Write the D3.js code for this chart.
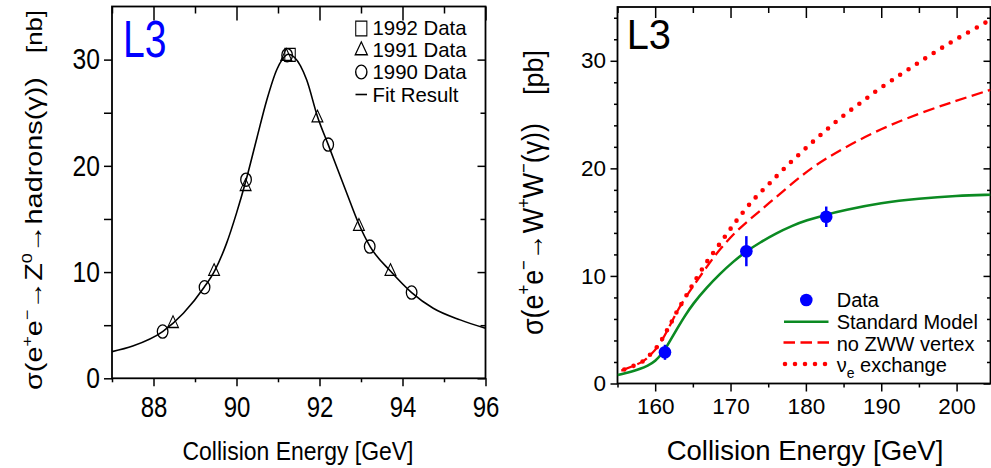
<!DOCTYPE html>
<html><head><meta charset="utf-8">
<script src="https://cdn.jsdelivr.net/npm/d3@7"></script>
<style>body{margin:0;background:#fff}svg{display:block}</style>
</head><body>
<svg id="c" width="991" height="468"></svg>
<script>
// ---------- Left panel data: e+e- -> Z0 -> hadrons ----------
const z1990E = [88.22, 89.23, 90.23, 91.22, 92.21, 93.21, 94.22];
const z1990S = [4.4, 8.57, 18.7, 30.42, 22.0, 12.4, 8.07];
const z1991E = [88.47, 89.46, 90.22, 91.2, 91.95, 92.95, 93.71];
const z1991S = [5.15, 10.05, 18.05, 30.3, 24.5, 14.3, 10.05];
const z1992E = [91.29];
const z1992S = [30.45];
const zFitE = [87, 87.5, 88.22, 88.72, 89.22, 89.47, 89.76, 90.0, 90.22, 90.49, 90.73, 90.97, 91.1, 91.25, 91.4, 91.69, 91.95, 92.21, 92.66, 92.94, 93.22, 93.72, 94.22, 94.74, 95.39, 96];
const zFitS = [2.51, 3.04, 4.4, 6.12, 8.57, 10.1, 12.7, 15.55, 18.5, 22.6, 26.2, 29.05, 30.0, 30.5, 30.2, 28.1, 24.65, 22.0, 17.4, 14.6, 12.4, 10.05, 8.07, 6.6, 5.5, 4.71];
const zXTicks = [88, 90, 92, 94, 96];
const zYTicks = [0, 10, 20, 30];
const zLegend = ["1992 Data", "1991 Data", "1990 Data", "Fit Result"];

// ---------- Right panel data: e+e- -> W+W- ----------
const wDataE = [161.3, 172.1, 182.7];
const wDataS = [2.9, 12.3, 15.5];
const wDataErr = [0.7, 1.4, 0.95];
const smE = [155, 156, 157, 158, 159, 160, 161, 161.5, 162, 163, 164, 165, 166.8, 168.6, 170.3, 172.1, 173.9, 176, 178.3, 180, 182.7, 185, 190, 195, 200, 204.5];
const smS = [0.79, 0.95, 1.13, 1.35, 1.65, 2.05, 2.85, 3.4, 4.0, 5.2, 6.35, 7.4, 8.9, 10.2, 11.3, 12.3, 13.1, 13.95, 14.7, 15.15, 15.7, 16.1, 16.8, 17.2, 17.45, 17.55];
const noZwwE = [155.5, 157, 158.4, 159.3, 160.4, 161.7, 162.8, 164.1, 165.7, 167.2, 168.6, 170.8, 172.8, 175, 178, 181, 185, 190, 195, 200, 204.5];
const noZwwS = [1.2, 1.6, 2.0, 2.6, 3.4, 5.0, 6.6, 8.1, 9.7, 11.2, 12.5, 14.2, 15.4, 16.7, 18.5, 20.2, 21.9, 23.7, 25.1, 26.3, 27.3];
const nueE = [155.9, 157, 158.4, 159.3, 160.4, 160.9, 161.6, 162.2, 162.8, 163.5, 164.8, 165.5, 166.9, 168.5, 170, 171.6, 173.4, 175.2, 177.1, 179.1, 181.1, 183.1, 185.1, 187.3, 189.5, 192.7, 194.9, 197.1, 199.4, 201.7, 204.1];
const nueS = [1.3, 1.6, 2.0, 2.65, 3.5, 4.1, 5.0, 5.75, 6.6, 7.4, 9.0, 9.8, 11.4, 12.9, 14.4, 15.9, 17.4, 18.6, 20.0, 21.3, 22.6, 23.8, 25.0, 26.1, 27.3, 28.8, 29.8, 30.8, 31.8, 32.7, 33.66];
const wXTicks = [160, 170, 180, 190, 200];
const wYTicks = [0, 10, 20, 30];
const wLegend = ["Data", "Standard Model", "no ZWW vertex", "exchange"];

// ---------- drawing ----------
const FONT = '"Liberation Sans", Arial, Helvetica, sans-serif';
const svg = d3.select('#c').style('font-family', FONT);
const GREEN = '#0b8a22', RED = '#ff0000', BLUE = '#0000ff';

function condense(sel, f) {
  sel.each(function () {
    const w = this.getComputedTextLength();
    this.setAttribute('textLength', w * f);
    this.setAttribute('lengthAdjust', 'spacingAndGlyphs');
  });
}
function range(a, b, s) { const r = []; for (let v = a; v <= b + 1e-9; v += s) r.push(+v.toFixed(6)); return r; }

function axisSet(g, gen, vals, size, tr, fmt, pad) {
  const a = g.append('g').attr('transform', tr)
    .call(gen.tickValues(vals).tickSize(size).tickPadding(pad || 3).tickFormat(fmt || (() => '')));
  a.select('.domain').remove();
  a.selectAll('line').attr('stroke', '#000').attr('stroke-width', 1.5);
  return a;
}

// ===== LEFT PANEL =====
const L = {x0: 112, x1: 485.5, y0: 378.3, y1: 6.5};
const zx = d3.scaleLinear().domain([87, 96]).range([L.x0, L.x1]);
const zy = d3.scaleLinear().domain([0, 35]).range([L.y0, L.y1]);
const gl = svg.append('g');

const zMinX = range(87, 95, 1).filter(v => !zXTicks.includes(v));
const zMinY = range(5, 30, 5).filter(v => !zYTicks.includes(v));
const lb = axisSet(gl, d3.axisBottom(zx), zXTicks, 8, `translate(0,${L.y0})`, d3.format('d'), 9);
lb.selectAll('text').attr('font-size', 30).attr('fill', '#000').attr('font-family', FONT).call(condense, 0.8);
axisSet(gl, d3.axisBottom(zx), zMinX, 4, `translate(0,${L.y0})`);
axisSet(gl, d3.axisTop(zx), zXTicks, -14, `translate(0,${L.y1})`);
axisSet(gl, d3.axisTop(zx), zMinX, -7, `translate(0,${L.y1})`);
const ll = axisSet(gl, d3.axisLeft(zy), zYTicks, 8, `translate(${L.x0},0)`, d3.format('d'), 4);
ll.selectAll('text').attr('font-size', 29).attr('fill', '#000').attr('font-family', FONT).call(condense, 0.85);
axisSet(gl, d3.axisLeft(zy), zMinY, 8, `translate(${L.x0},0)`);
axisSet(gl, d3.axisRight(zy), zYTicks, -8, `translate(${L.x1},0)`);
axisSet(gl, d3.axisRight(zy), zMinY, -5, `translate(${L.x1},0)`);
gl.append('rect').attr('x', L.x0).attr('y', L.y1).attr('width', L.x1 - L.x0).attr('height', L.y0 - L.y1)
  .attr('fill', 'none').attr('stroke', '#000').attr('stroke-width', 1.8);

gl.append('defs').append('clipPath').attr('id', 'clipL').append('rect')
  .attr('x', L.x0).attr('y', L.y1).attr('width', L.x1 - L.x0).attr('height', L.y0 - L.y1);
const zLine = d3.line().x((d, i) => zx(zFitE[i])).y(d => zy(d)).curve(d3.curveMonotoneX);
gl.append('path').attr('clip-path', 'url(#clipL)').attr('d', zLine(zFitS))
  .attr('fill', 'none').attr('stroke', '#000').attr('stroke-width', 1.6);

const SX = 0.8;
gl.selectAll('ellipse.d90').data(z1990S).join('ellipse')
  .attr('cx', (d, i) => zx(z1990E[i])).attr('cy', d => zy(d)).attr('rx', 5.3).attr('ry', 6.6)
  .attr('fill', 'none').attr('stroke', '#000').attr('stroke-width', 1.3);
const tri = d3.symbol(d3.symbolTriangle, 80);
gl.selectAll('path.d91').data(z1991S).join('path')
  .attr('transform', (d, i) => `translate(${zx(z1991E[i])},${zy(d)}) scale(${SX},1)`)
  .attr('d', tri()).attr('fill', 'none').attr('stroke', '#000').attr('stroke-width', 1.3);
const sq = d3.symbol(d3.symbolSquare, 170);
gl.selectAll('path.d92').data(z1992S).join('path')
  .attr('transform', (d, i) => `translate(${zx(z1992E[i])},${zy(d)}) scale(${SX},1)`)
  .attr('d', sq()).attr('fill', 'none').attr('stroke', '#000').attr('stroke-width', 1.3);

// legend (left)
const lgX = 361.3, lgTX = 372.5, lgBase = [35, 57, 79.3, 101.7];
gl.append('path').attr('transform', `translate(${lgX},${28.5}) scale(0.75,1)`).attr('d', d3.symbol(d3.symbolSquare, 220)())
  .attr('fill', 'none').attr('stroke', '#000').attr('stroke-width', 1.4);
gl.append('path').attr('transform', `translate(${lgX},${50.5}) scale(0.82,1)`).attr('d', d3.symbol(d3.symbolTriangle, 95)())
  .attr('fill', 'none').attr('stroke', '#000').attr('stroke-width', 1.4);
gl.append('ellipse').attr('cx', lgX).attr('cy', 72).attr('rx', 5.6).attr('ry', 6.9)
  .attr('fill', 'none').attr('stroke', '#000').attr('stroke-width', 1.4);
gl.append('line').attr('x1', 355.5).attr('x2', 367).attr('y1', 94.5).attr('y2', 94.5).attr('stroke', '#000').attr('stroke-width', 1.6);
gl.selectAll('text.lg').data(zLegend).join('text').attr('class', 'lg')
  .attr('x', lgTX).attr('y', (d, i) => lgBase[i]).attr('font-size', 21).text(d => d).call(condense, 0.97);

gl.append('text').attr('x', 123).attr('y', 57.3).attr('font-size', 51).attr('fill', BLUE)
  .attr('textLength', 43.5).attr('lengthAdjust', 'spacingAndGlyphs').text('L3');

gl.append('text').attr('x', 182.5).attr('y', 459.5).attr('font-size', 26)
  .attr('textLength', 231).attr('lengthAdjust', 'spacingAndGlyphs').text('Collision Energy [GeV]');

function yTitle(g, x, yStart, fs, parts, len, sx) {
  const t = g.append('text').attr('transform', `translate(${x},${yStart}) scale(${sx},1) rotate(-90)`)
    .attr('font-size', fs);
  parts.forEach(p => {
    const ts = t.append('tspan').text(p[0]);
    if (p[1] === 'sup') ts.attr('font-size', fs * 0.62).attr('dy', -fs * 0.42);
    else if (p[1] === 'back') ts.attr('dy', fs * 0.42);
  });
  t.attr('textLength', len).attr('lengthAdjust', 'spacingAndGlyphs');
  return t;
}
yTitle(gl, 41.7, 390, 30, [
  ['σ(e'], ['+', 'sup'], ['e', 'back'], ['−', 'sup'], ['→Z', 'back'], ['0', 'sup'], ['→hadrons(γ))', 'back']
], 313, 0.8);
gl.append('text').attr('transform', `translate(41.7,53) scale(0.8,1) rotate(-90)`).attr('font-size', 28)
  .attr('textLength', 43).attr('lengthAdjust', 'spacingAndGlyphs').text('[nb]');

// ===== RIGHT PANEL =====
const R = {x0: 617.5, x1: 990.5, y0: 383.5, y1: 7};
const wx = d3.scaleLinear().domain([155, 204.5]).range([R.x0, R.x1]);
const wy = d3.scaleLinear().domain([0, 35]).range([R.y0, R.y1]);
const gr = svg.append('g');

const wMinX = range(155, 200, 5).filter(v => !wXTicks.includes(v));
const wMinY = range(2, 34, 2).filter(v => !wYTicks.includes(v));
const rb = axisSet(gr, d3.axisBottom(wx), wXTicks, 8, `translate(0,${R.y0})`, d3.format('d'), 7);
rb.selectAll('text').attr('font-size', 22.5).attr('fill', '#000').attr('font-family', FONT);
axisSet(gr, d3.axisBottom(wx), wMinX, 4, `translate(0,${R.y0})`);
axisSet(gr, d3.axisTop(wx), wXTicks, -11, `translate(0,${R.y1})`);
axisSet(gr, d3.axisTop(wx), wMinX, -6, `translate(0,${R.y1})`);
const rl = axisSet(gr, d3.axisLeft(wy), wYTicks, 7, `translate(${R.x0},0)`, d3.format('d'), 4.5);
rl.selectAll('text').attr('font-size', 22.5).attr('fill', '#000').attr('font-family', FONT);
axisSet(gr, d3.axisLeft(wy), wMinY, 3.5, `translate(${R.x0},0)`);
axisSet(gr, d3.axisRight(wy), wYTicks, -7, `translate(${R.x1},0)`);
axisSet(gr, d3.axisRight(wy), wMinY, -3.5, `translate(${R.x1},0)`);
gr.append('rect').attr('x', R.x0).attr('y', R.y1).attr('width', R.x1 - R.x0).attr('height', R.y0 - R.y1)
  .attr('fill', 'none').attr('stroke', '#000').attr('stroke-width', 1.8);

gr.append('defs').append('clipPath').attr('id', 'clipR').append('rect')
  .attr('x', R.x0).attr('y', R.y1).attr('width', R.x1 - R.x0).attr('height', R.y0 - R.y1);
const mkLine = xs => d3.line().x((d, i) => wx(xs[i])).y(d => wy(d)).curve(d3.curveBasis);
const cg = gr.append('g').attr('clip-path', 'url(#clipR)');
cg.append('path').attr('d', mkLine(nueE)(nueS)).attr('fill', 'none').attr('stroke', RED)
  .attr('stroke-width', 4.6).attr('stroke-linecap', 'round').attr('stroke-dasharray', '0 10');
cg.append('path').attr('d', mkLine(noZwwE)(noZwwS)).attr('fill', 'none').attr('stroke', RED)
  .attr('stroke-width', 2.3).attr('stroke-dasharray', '11.5 5.5');
cg.append('path').attr('d', mkLine(smE)(smS)).attr('fill', 'none').attr('stroke', GREEN)
  .attr('stroke-width', 2.6);

gr.selectAll('line.err').data(wDataS).join('line')
  .attr('x1', (d, i) => wx(wDataE[i])).attr('x2', (d, i) => wx(wDataE[i]))
  .attr('y1', (d, i) => wy(d - wDataErr[i])).attr('y2', (d, i) => wy(d + wDataErr[i]))
  .attr('stroke', BLUE).attr('stroke-width', 2.5);
gr.selectAll('circle.pt').data(wDataS).join('circle')
  .attr('cx', (d, i) => wx(wDataE[i])).attr('cy', d => wy(d)).attr('r', 6.3).attr('fill', BLUE);

const rlX = 836.7, rlBase = [306.7, 329.3, 350.8, 372.3];
gr.append('circle').attr('cx', 806.3).attr('cy', 300).attr('r', 6.3).attr('fill', BLUE);
gr.append('line').attr('x1', 784).attr('x2', 828.5).attr('y1', 321.7).attr('y2', 321.7).attr('stroke', GREEN).attr('stroke-width', 2.6);
gr.append('line').attr('x1', 783.5).attr('x2', 829).attr('y1', 342.5).attr('y2', 342.5).attr('stroke', RED).attr('stroke-width', 2.3).attr('stroke-dasharray', '11.5 5.5');
gr.append('line').attr('x1', 785).attr('x2', 826).attr('y1', 364).attr('y2', 364).attr('stroke', RED)
  .attr('stroke-width', 4.6).attr('stroke-linecap', 'round').attr('stroke-dasharray', '0 10');
wLegend.forEach((s, i) => {
  const t = gr.append('text').attr('x', rlX).attr('y', rlBase[i]).attr('font-size', 20);
  if (i === 3) {
    t.append('tspan').text('ν');
    t.append('tspan').text('e').attr('font-size', 14).attr('dy', 6);
    t.append('tspan').text(' ' + s).attr('dy', -6);
  } else t.text(s);
});

gr.append('text').attr('x', 626.7).attr('y', 49.3).attr('font-size', 43)
  .attr('textLength', 44.3).attr('lengthAdjust', 'spacingAndGlyphs').text('L3');

gr.append('text').attr('x', 666.7).attr('y', 459.5).attr('font-size', 27.5)
  .attr('textLength', 276.6).attr('lengthAdjust', 'spacingAndGlyphs').text('Collision Energy [GeV]');

yTitle(gr, 542.5, 335, 30, [
  ['σ(e'], ['+', 'sup'], ['e', 'back'], ['−', 'sup'], ['→W', 'back'], ['+', 'sup'], ['W', 'back'], ['−', 'sup'], ['(γ))', 'back']
], 212, 1);
gr.append('text').attr('transform', `translate(542.5,95) rotate(-90)`).attr('font-size', 28)
  .attr('textLength', 45).attr('lengthAdjust', 'spacingAndGlyphs').text('[pb]');
</script>
</body></html>
